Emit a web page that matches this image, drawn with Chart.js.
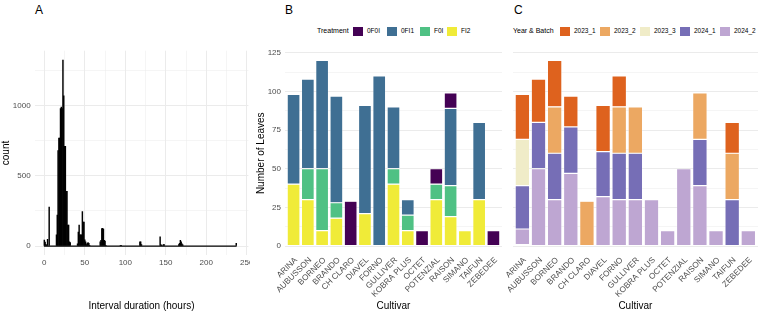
<!DOCTYPE html>
<html><head><meta charset="utf-8">
<script src="https://cdn.jsdelivr.net/npm/chart.js@4.4.1/dist/chart.umd.min.js"></script>
<style>
html,body{margin:0;padding:0;background:#fff;}
body{width:760px;height:316px;position:relative;overflow:hidden;font-family:"Liberation Sans",Arial,sans-serif;}
canvas{position:absolute;top:0;}
.plab{position:absolute;font-size:12px;line-height:12px;color:#000;}
.lt{position:absolute;top:26px;height:10px;line-height:10px;font-size:7px;color:#000;white-space:nowrap;}
.lk{position:absolute;top:26.5px;width:10px;height:9px;}
.ll{position:absolute;top:26px;height:10px;line-height:10px;font-size:6.5px;color:#000;white-space:nowrap;}
</style></head>
<body>
<div class="plab" style="left:35px;top:4px">A</div>
<div class="plab" style="left:285px;top:4px">B</div>
<div class="plab" style="left:514px;top:4px">C</div>
<div id="legB"></div>
<div id="legC"></div>
<canvas id="cA" width="250" height="316" style="left:0px"></canvas>
<canvas id="cB" width="260" height="316" style="left:250px"></canvas>
<canvas id="cC" width="290" height="316" style="left:470px"></canvas>
<script>
// ---------- Panel A data (histogram, 1-hour bins) ----------
const histHours = [0,1,2,3,4,6,
  15,16,17,18,19,20,21,22,23,24,25,26,27,28,29,30,31,32,
  41,42,43,44,45,46,47,48,49,50,51,52,53,54,55,56,
  69,70,71,72,73,74,75,76,
  94,95,
  118,119,120,
  143,144,145,147,148,
  166,167,168,169,170,171,
  237];
const histCounts = [42,28,12,5,48,278,
  80,220,680,770,770,980,990,980,1326,1070,710,710,390,390,150,150,30,25,
  15,100,150,80,80,80,245,170,170,45,30,10,20,25,20,5,
  30,40,125,126,120,40,35,5,
  5,5,
  30,30,10,
  65,10,5,10,10,
  10,20,40,30,15,8,
  20];
const histXTicks = [0,25,50,75,100,125,150,175,200,225,250];
const histYTicks = [0,250,500,750,1000,1250];

// ---------- Panels B and C data ----------
const cultivars = ["ARINA","AUBUSSON","BORNEO","BRANDO","CH CLARO","DIAVEL","FORNO","GULLIVER","KOBRA PLUS","OCTET","POTENZIAL","RAISON","SIMANO","TAIFUN","ZEBEDEE"];
const leafTicks = [0,12.5,25,37.5,50,62.5,75,87.5,100,112.5,125];

const treatments = ["0F0I","0FI1","F0I","FI2"];
const tr0F0I = [0,0,0,0,29,0,0,0,0,10,10,10,0,0,10];
const tr0FI1 = [58,58,70,69,0,70,110,40,10,0,0,50,0,50,0];
const trF0I  = [0,20,40,10,0,0,0,10,10,0,10,20,0,0,0];
const trFI2  = [40,30,10,18,0,21,0,40,10,0,30,19,10,30,0];

const batches = ["2023_1","2023_2","2023_3","2024_1","2024_2"];
const b2023_1 = [29,28,30,20,0,30,20,0,0,0,0,0,0,20,0];
const b2023_2 = [0,0,30,0,29,0,30,30,0,0,0,30,0,30,0];
const b2023_3 = [30,0,0,0,0,0,0,0,0,0,0,0,0,0,0];
const b2024_1 = [28,30,30,30,0,29,30,30,0,0,0,30,0,30,0];
const b2024_2 = [10,50,30,47,0,32,30,30,30,10,50,39,10,0,10];
const bNA     = [1,0,0,0,0,0,0,0,0,0,0,0,0,0,0];

// ---------- styling ----------
const trColors = {"0F0I":"#440154","0FI1":"#3F6F93","F0I":"#4FC184","FI2":"#F0EB38"};
const bColors = {"2023_1":"#DE621E","2023_2":"#ECA862","2023_3":"#F0ECC8","2024_1":"#766EB6","2024_2":"#BEA6D2","NA":"#555555"};
const GRID = '#EBEBEB';
Chart.defaults.font.family = "'Liberation Sans', Arial, sans-serif";
Chart.defaults.color = '#4D4D4D';

function fixSize(size, horiz){
  return function(s){
    if(horiz){ s.height = size; } else { s.width = size; }
    s.paddingLeft = 0; s.paddingRight = 0; s.paddingTop = 0; s.paddingBottom = 0;
  };
}
function setTicks(arr){ return function(s){ s.ticks = arr.map(v=>({value:v})); }; }

// ---------- Panel A ----------
const baseline = [{x:histHours[0]-0.5,y:0},{x:histHours[histHours.length-1]+0.5,y:0}];
new Chart(document.getElementById('cA'), {
  type:'bar',
  data:{datasets:[
    {type:'line', data:baseline, borderColor:'#000', borderWidth:1.3, pointRadius:0, order:2},
    {data:histHours.map((h,i)=>({x:h,y:histCounts[i]})), backgroundColor:'#000', borderWidth:0,
     barPercentage:1, categoryPercentage:1, order:1}
  ]},
  options:{responsive:false, animation:false, devicePixelRatio:1,
    layout:{padding:{top:50.7,left:0,right:1.6,bottom:0}},
    plugins:{legend:{display:false}, tooltip:{enabled:false}},
    scales:{
      x:{type:'linear', offset:false, min:-12, max:252, afterBuildTicks:setTicks(histXTicks),
        ticks:{callback:v=>(v%50===0?String(v):''), autoSkip:false, maxRotation:0, padding:3, font:{size:8}},
        grid:{offset:false, color:GRID, lineWidth:c=>(c.tick && c.tick.value%50===0)?1:0.5, drawTicks:false},
        border:{display:false},
        title:{display:true, text:'Interval duration (hours)', color:'#000', font:{size:10}, padding:{top:0,bottom:4}},
        afterFit:fixSize(60.7,true)},
      y:{type:'linear', min:-66, max:1392, afterBuildTicks:setTicks(histYTicks),
        ticks:{callback:v=>(v%500===0?String(v):''), autoSkip:false, padding:4, font:{size:8}},
        grid:{color:GRID, lineWidth:c=>(c.tick && c.tick.value%500===0)?1:0.5, drawTicks:false},
        border:{display:false},
        title:{display:true, text:'count', color:'#000', font:{size:10}, padding:{top:0,bottom:0}},
        afterFit:fixSize(34.6,false)}
    }
  }
});

// ---------- Panels B and C ----------
function stackData(arr){ return arr.map((v,i)=>({x:i+1, y:(v===0?null:v)})); }
function leafOptions(opt){
  return {responsive:false, animation:false, devicePixelRatio:1,
    layout:{padding:{top:51.2,left:0,right:opt.right,bottom:0}},
    plugins:{legend:{display:false}, tooltip:{enabled:false}},
    datasets:{bar:{barPercentage:0.9, categoryPercentage:1, borderColor:'rgba(255,255,255,0.55)', borderWidth:0.6, borderSkipped:false}},
    scales:{
      x:{type:'linear', offset:false, stacked:true, min:0.4, max:15.6, afterBuildTicks:setTicks(cultivars.map((c,i)=>i+1)),
        ticks:{callback:v=>cultivars[Math.round(v)-1]||'', autoSkip:false, minRotation:45, maxRotation:45, padding:0, labelOffset:2.5, font:{size:8.2}},
        grid:{display:false, offset:false, drawTicks:false}, border:{display:false},
        title:{display:true, text:'Cultivar', color:'#000', font:{size:10}, padding:{top:0,bottom:4}},
        afterFit:fixSize(60.7,true)},
      y:{type:'linear', stacked:true, min:-6, max:126, afterBuildTicks:setTicks(leafTicks),
        ticks:{display:opt.yLabels, callback:v=>(v%25===0?String(v):''), autoSkip:false, padding:4, font:{size:8}},
        grid:{color:GRID, lineWidth:c=>(c.tick && c.tick.value%25===0)?1:0.5, drawTicks:false},
        border:{display:false},
        title:{display:opt.yLabels, text:'Number of Leaves', color:'#000', font:{size:10}, padding:{top:5,bottom:0}},
        afterFit:fixSize(opt.yWidth,false)}
    }
  };
}
const trSeries = {"0F0I":tr0F0I,"0FI1":tr0FI1,"F0I":trF0I,"FI2":trFI2};
new Chart(document.getElementById('cB'), {
  type:'bar',
  data:{datasets:["FI2","F0I","0FI1","0F0I"].map(t=>({label:t, data:stackData(trSeries[t]), backgroundColor:trColors[t]}))},
  options:leafOptions({right:8, yLabels:true, yWidth:35})
});
const bSeries = {"2023_1":b2023_1,"2023_2":b2023_2,"2023_3":b2023_3,"2024_1":b2024_1,"2024_2":b2024_2,"NA":bNA};
new Chart(document.getElementById('cC'), {
  type:'bar',
  data:{datasets:["NA","2024_2","2024_1","2023_3","2023_2","2023_1"].map(t=>({label:t, data:stackData(bSeries[t]), backgroundColor:bColors[t]}))},
  options:leafOptions({right:2, yLabels:false, yWidth:42.7})
});

// ---------- legends (HTML, keys placed like the reference) ----------
function buildLegend(id, title, titleX, names, keyXs, colors){
  const el = document.getElementById(id);
  let h = '<span class="lt" style="left:'+titleX+'px">'+title+'</span>';
  names.forEach((n,i)=>{
    h += '<span class="lk" style="left:'+keyXs[i]+'px;background:'+colors[n]+'"></span>';
    h += '<span class="ll" style="left:'+(keyXs[i]+14)+'px">'+n+'</span>';
  });
  el.innerHTML = h;
}
buildLegend('legB','Treatment',317,treatments,[353,387,420,447],trColors);
buildLegend('legC','Year &amp; Batch',513,batches,[560,600,640,680,720],bColors);
</script>
</body></html>
